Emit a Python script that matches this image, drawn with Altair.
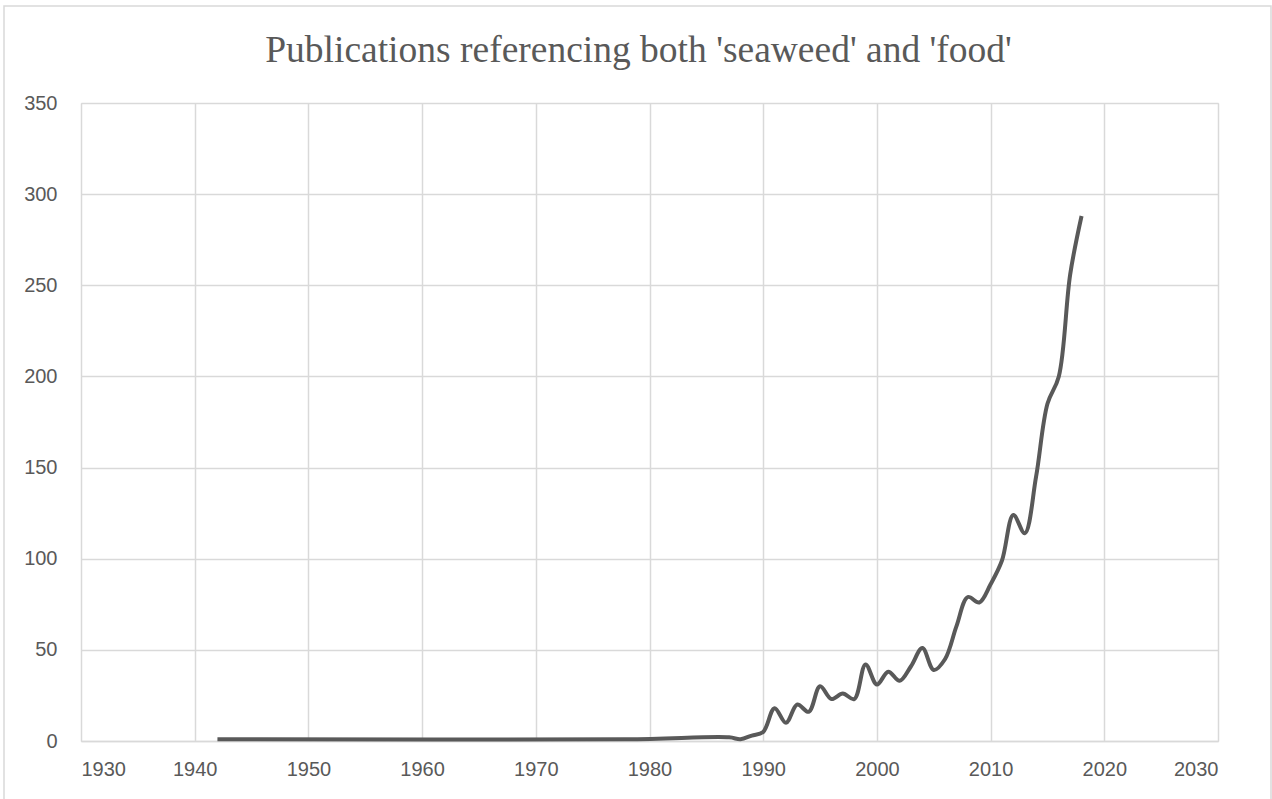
import altair as alt
import pandas as pd

years = [1942, 1978, 1987, 1988, 1989, 1990, 1991, 1992, 1993, 1994, 1995,
         1996, 1997, 1998, 1999, 2000, 2001, 2002, 2003, 2004, 2005, 2006,
         2007, 2008, 2009, 2010, 2011, 2012, 2013, 2014, 2015, 2016, 2017, 2018]
counts = [1, 1, 2, 1, 3, 5, 18, 10, 20, 16, 30,
          23, 26, 23, 42, 31, 38, 33, 41, 51, 39, 45,
          63, 79, 76, 86, 99, 124, 114, 145, 185, 200, 256, 288]

x_ticks = [1930, 1940, 1950, 1960, 1970, 1980, 1990, 2000, 2010, 2020, 2030]
y_ticks = [0, 50, 100, 150, 200, 250, 300, 350]

df = pd.DataFrame({"year": years, "count": counts})

line = alt.Chart(df).mark_line(
    color="#595959", strokeWidth=4, interpolate="catmull-rom"
).encode(
    x=alt.X("year:Q",
            scale=alt.Scale(domain=[1930, 2030], nice=False, zero=False),
            axis=alt.Axis(values=x_ticks, format="d", title=None,
                          grid=True, gridColor="#d9d9d9", gridWidth=1.5,
                          domainColor="#d9d9d9", domainWidth=1.5,
                          ticks=False, labelPadding=18,
                          labelFont="Liberation Sans", labelFontSize=20,
                          labelColor="#595959")),
    y=alt.Y("count:Q",
            scale=alt.Scale(domain=[0, 350], nice=False),
            axis=alt.Axis(values=y_ticks, title=None,
                          grid=True, gridColor="#d9d9d9", gridWidth=1.5,
                          domain=False, ticks=False, labelPadding=24,
                          labelFont="Liberation Sans", labelFontSize=20,
                          labelColor="#595959")),
)

border = alt.Chart(pd.DataFrame({"k": [0]})).mark_rect(
    fill=None, stroke="#d9d9d9", strokeWidth=1.5
).encode(
    x=alt.value(-77), x2=alt.value(1190), y=alt.value(-97), y2=alt.value(720)
)

chart = alt.layer(border, line).properties(
    width=1137, height=638,
    padding={"left": 81, "top": 103, "right": 54, "bottom": 58},
    autosize=alt.AutoSizeParams(type="none"),
    title=alt.TitleParams(
        "Publications referencing both 'seaweed' and 'food'",
        font="Liberation Serif", fontSize=37.5, fontWeight="normal",
        color="#595959", anchor="middle", baseline="alphabetic",
        offset=-94, dx=-11
    ),
).configure_view(stroke=None).configure(background="white")

chart.save("out.html", embed_options={"renderer": "svg", "actions": False})
